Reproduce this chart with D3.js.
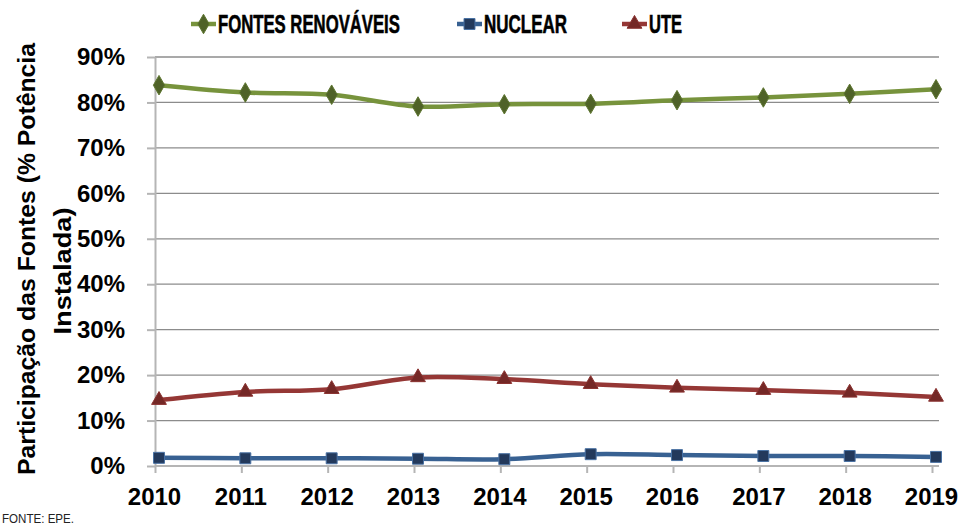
<!DOCTYPE html>
<html>
<head>
<meta charset="utf-8">
<style>
  body { margin: 0; background: #fff; }
  svg { display: block; font-family: 'Liberation Sans', Arial, sans-serif; }
  .grid line { stroke: #8c8c8c; stroke-width: 1.3; }
  .axis .domain { stroke: #b5b5b5; stroke-width: 2; }
  .axis .tick line { stroke: #b5b5b5; stroke-width: 2; }
  .axis .tick text { font-size: 24px; font-weight: bold; fill: #000; }
</style>
</head>
<body>
<svg width="960" height="526"></svg>
<script src="https://d3js.org/d3.v7.min.js"></script>
<script>
  // data
  const years = ["2010", "2011", "2012", "2013", "2014", "2015", "2016", "2017", "2018", "2019"];
  const renovaveis = [0.838, 0.822, 0.817, 0.791, 0.796, 0.797, 0.805, 0.811, 0.819, 0.829];
  const nuclear = [0.018, 0.017, 0.017, 0.016, 0.015, 0.026, 0.024, 0.022, 0.022, 0.020];
  const ute = [0.145, 0.163, 0.169, 0.195, 0.191, 0.180, 0.172, 0.167, 0.161, 0.152];
  const yTicks = [0, 0.1, 0.2, 0.3, 0.4, 0.5, 0.6, 0.7, 0.8, 0.9];

  const series = [
    { name: "FONTES RENOVÁVEIS", values: renovaveis, line: "#77933c", fill: "#4f6228", stroke: "#5e7630", shape: d3.symbolDiamond, size: 110, legendX: 191, legendW: 182 },
    { name: "NUCLEAR", values: nuclear, line: "#386192", fill: "#23395b", stroke: "#4a72a4", shape: d3.symbolSquare, size: 120, legendX: 457, legendW: 83 },
    { name: "UTE", values: ute, line: "#953735", fill: "#742826", stroke: "#8a3230", shape: d3.symbolTriangle, size: 95, legendX: 622, legendW: 33 }
  ];

  const svg = d3.select("svg");
  const plotLeft = 155, plotRight = 939, plotTop = 57, plotBottom = 466;
  const markerShift = 4;

  const x = d3.scalePoint().domain(years).range([plotLeft, 932]);
  const y = d3.scaleLinear().domain([0, 0.9]).range([plotBottom, plotTop]);

  // gridlines
  svg.append("g").attr("class", "grid")
    .selectAll("line").data(yTicks.slice(1)).join("line")
    .attr("x1", plotLeft).attr("x2", plotRight)
    .attr("y1", d => y(d)).attr("y2", d => y(d));

  // y axis
  svg.append("g").attr("class", "axis")
    .attr("transform", `translate(${plotLeft},0)`)
    .call(d3.axisLeft(y).tickValues(yTicks).tickFormat(d3.format(".0%")).tickSize(8).tickPadding(22).tickSizeOuter(0));

  // x axis
  const xAxis = svg.append("g").attr("class", "axis")
    .attr("transform", `translate(0,${plotBottom})`)
    .call(d3.axisBottom(x).tickSize(7).tickPadding(15).tickSizeOuter(0));
  xAxis.select(".domain").attr("d", `M${plotLeft},0H${plotRight}`);
  xAxis.selectAll(".tick text").attr("dx", "-1");

  // lines
  const line = d3.line()
    .x((d, i) => x(years[i]) + markerShift)
    .y(d => y(d))
    .curve(d3.curveCatmullRom.alpha(0.5));

  series.forEach(s => {
    svg.append("path")
      .attr("d", line(s.values))
      .attr("fill", "none")
      .attr("stroke", s.line)
      .attr("stroke-width", 4.5);

    svg.append("g").selectAll("path").data(s.values).join("path")
      .attr("transform", (d, i) => `translate(${x(years[i]) + markerShift},${y(d)})`)
      .attr("d", d3.symbol().type(s.shape).size(s.size))
      .attr("fill", s.fill)
      .attr("stroke", s.stroke)
      .attr("stroke-width", 1);
  });

  // legend: condensed bold labels, squeezed to the reference width
  const legend = svg.append("g");
  series.forEach(s => {
    const g = legend.append("g").attr("transform", `translate(${s.legendX},24)`);
    g.append("line").attr("x1", 0).attr("x2", 25).attr("y1", 0).attr("y2", 0)
      .attr("stroke", s.line).attr("stroke-width", 4.5);
    g.append("path").attr("transform", "translate(12.5,0)")
      .attr("d", d3.symbol().type(s.shape).size(s.size))
      .attr("fill", s.fill).attr("stroke", s.stroke);
    const t = g.append("text")
      .attr("x", 0).attr("y", 0)
      .style("font-size", "25px")
      .style("font-weight", "bold")
      .style("stroke", "#000")
      .style("stroke-width", 0.6)
      .text(s.name);
    const w = t.node().getComputedTextLength();
    t.attr("transform", `translate(27,9) scale(${s.legendW / w},1)`);
  });

  // y axis title, two lines
  svg.append("text")
    .attr("transform", "translate(35,259) rotate(-90)")
    .attr("text-anchor", "middle")
    .attr("textLength", 432)
    .attr("lengthAdjust", "spacingAndGlyphs")
    .style("font-size", "23px").style("font-weight", "bold")
    .text("Participação das Fontes (% Potência");
  svg.append("text")
    .attr("transform", "translate(71,271) rotate(-90)")
    .attr("text-anchor", "middle")
    .attr("textLength", 127)
    .attr("lengthAdjust", "spacingAndGlyphs")
    .style("font-size", "23px").style("font-weight", "bold")
    .text("Instalada)");

  // source
  svg.append("text")
    .attr("x", 2).attr("y", 523)
    .attr("textLength", 72)
    .attr("lengthAdjust", "spacingAndGlyphs")
    .style("font-size", "13px").style("fill", "#222")
    .text("FONTE: EPE.");
</script>
</body>
</html>
